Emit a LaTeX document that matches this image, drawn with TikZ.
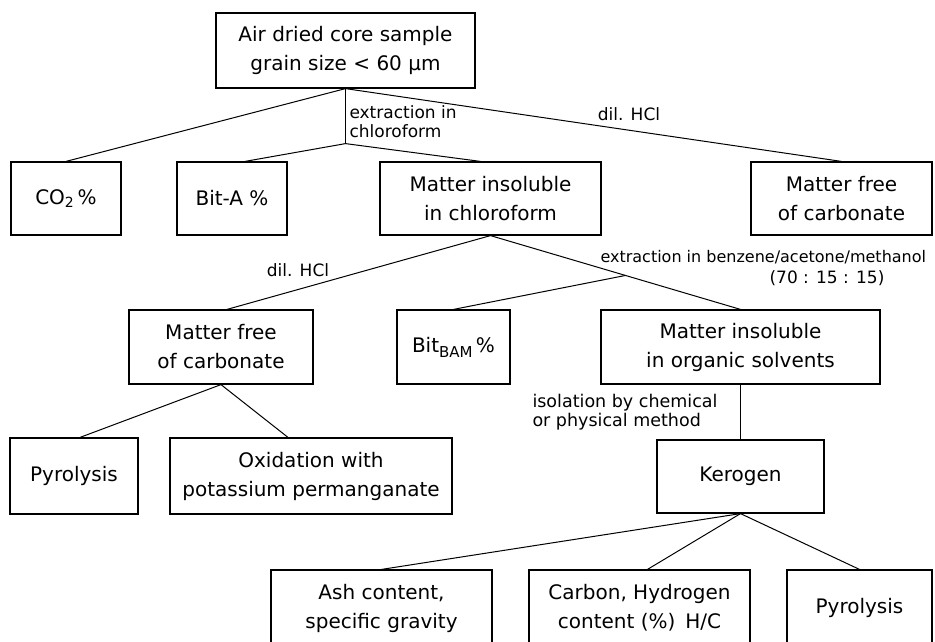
\documentclass[tikz,border=0pt]{standalone}
\usepackage{fontspec}
\setmainfont{DejaVu Sans}
\usepackage{tikz}
\usetikzlibrary{calc}

\begin{document}
\begin{tikzpicture}[x=1pt,y=-1pt,line width=1pt,
  box/.style={draw=black,line width=1.2pt,align=center,font=\fontsize{20}{29}\selectfont},
  lbl/.style={align=left,font=\fontsize{17}{19}\selectfont}]
\tikzstyle{every node}+=[inner sep=0pt]
\useasboundingbox (0,0) rectangle (935,641);
\fill [white] (0,0) rectangle (935,641);
\node [box,minimum width=259,minimum height=75] (sample) at (345.5,50.5) {Air dried core sample\\grain size < 60 µm};
\node [box,minimum width=110,minimum height=73] (co2) at (66,198.5) {CO\textsubscript{2}\,\%};
\node [box,minimum width=110,minimum height=73] (bita) at (232,198.5) {Bit-A \%};
\node [box,minimum width=221,minimum height=73] (mic) at (490.5,198.5) {Matter insoluble\\in chloroform};
\node [box,minimum width=181,minimum height=73] (mfc1) at (841.5,198.5) {Matter free\\of carbonate};
\node [box,minimum width=184,minimum height=74] (mfc2) at (221,347) {Matter free\\of carbonate};
\node [box,minimum width=113,minimum height=74] (bitbam) at (453.5,347) {Bit\raisebox{-0.45ex}{\fontsize{15}{15}\selectfont BAM}\,\%};
\node [box,minimum width=279,minimum height=74] (mios) at (740.5,347) {Matter insoluble\\in organic solvents};
\node [box,minimum width=128,minimum height=76] (pyro1) at (74,476) {Pyrolysis};
\node [box,minimum width=282,minimum height=76] (oxid) at (311,476) {Oxidation with\\potassium permanganate};
\node [box,minimum width=167,minimum height=73] (kerogen) at (740.5,476.5) {Kerogen};
\node [box,minimum width=221,minimum height=76] (ash) at (381.5,608) {Ash content,\\specific gravity};
\node [box,minimum width=221,minimum height=76] (chc) at (639.5,608) {Carbon, Hydrogen\\content (\%)\enspace H/C};
\node [box,minimum width=145,minimum height=76] (pyro2) at (859.5,608) {Pyrolysis};
\coordinate (j1) at ($(sample.south)+(0,55)$);
\coordinate (j2) at ($(mic.south)!0.54!(mios.north)$);
\draw (sample.south) -- (co2.north);
\draw (sample.south) -- (j1);
\draw (j1) -- ([xshift=13]bita.north);
\draw (j1) -- ([xshift=-10]mic.north);
\draw (sample.south) -- (mfc1.north);
\draw (mic.south) -- ([xshift=6]mfc2.north);
\draw (mic.south) -- (mios.north);
\draw (j2) -- (bitbam.north);
\draw (mfc2.south) -- ([xshift=6]pyro1.north);
\draw (mfc2.south) -- ([xshift=-23]oxid.north);
\draw (mios.south) -- (kerogen.north);
\draw (kerogen.south) -- (ash.north);
\draw (kerogen.south) -- ([xshift=8]chc.north);
\draw (kerogen.south) -- (pyro2.north);
\node [lbl,anchor=west] (lblchl) at (349,122) {extraction in\\chloroform};
\node [lbl] (lblhcl1) at (629,114) {dil. HCl};
\node [lbl] (lblhcl2) at (298,270) {dil. HCl};
\node [lbl,anchor=west,font=\fontsize{16}{18}\selectfont] (lblbam) at (600,257) {extraction in benzene/acetone/methanol};
\node [lbl] (lblratio) at (827,278) {(70 : 15 : 15)};
\node [lbl,anchor=west,font=\fontsize{17.5}{19}\selectfont] (lbliso) at (532,412) {isolation by chemical\\or physical method};
\end{tikzpicture}
\end{document}
